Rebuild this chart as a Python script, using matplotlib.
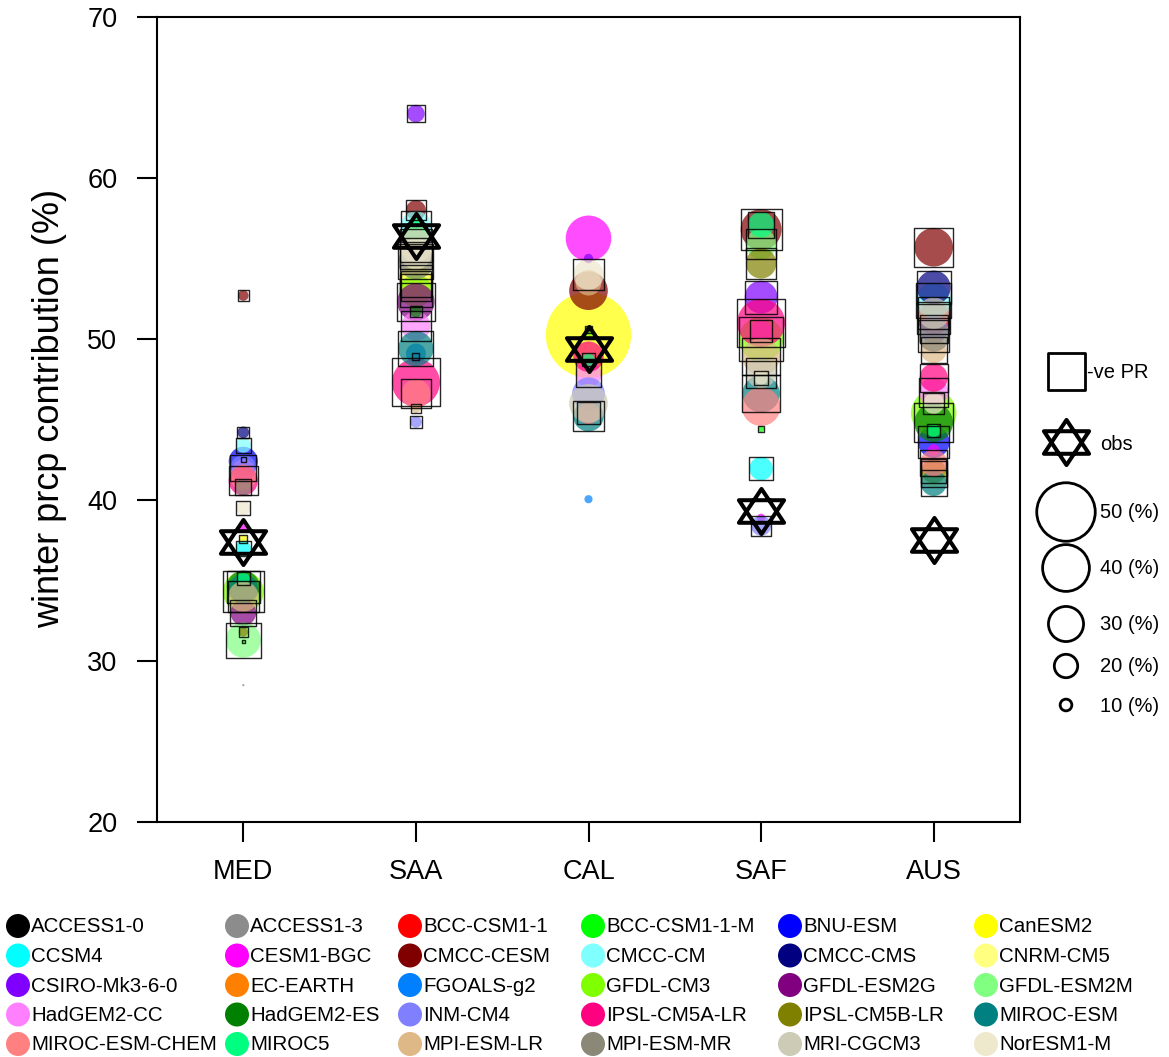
import numpy as np
import matplotlib
matplotlib.use("Agg")
import matplotlib.pyplot as plt
from matplotlib.path import Path

plt.rcParams["font.family"] = ["Liberation Sans", "DejaVu Sans"]

nan = np.nan

regions = ["MED", "SAA", "CAL", "SAF", "AUS"]

models = ["ACCESS1-0", "ACCESS1-3", "BCC-CSM1-1", "BCC-CSM1-1-M", "BNU-ESM", "CanESM2",
          "CCSM4", "CESM1-BGC", "CMCC-CESM", "CMCC-CM", "CMCC-CMS", "CNRM-CM5",
          "CSIRO-Mk3-6-0", "EC-EARTH", "FGOALS-g2", "GFDL-CM3", "GFDL-ESM2G", "GFDL-ESM2M",
          "HadGEM2-CC", "HadGEM2-ES", "INM-CM4", "IPSL-CM5A-LR", "IPSL-CM5B-LR", "MIROC-ESM",
          "MIROC-ESM-CHEM", "MIROC5", "MPI-ESM-LR", "MPI-ESM-MR", "MRI-CGCM3", "NorESM1-M"]

colors = ["#000000", "#8c8c8c", "#ff0000", "#00ff00", "#0000ff", "#ffff00",
          "#00ffff", "#ff00ff", "#800000", "#80ffff", "#000080", "#ffff80",
          "#8000ff", "#ff8000", "#0080ff", "#80ff00", "#800080", "#80ff80",
          "#ff80ff", "#008000", "#8080ff", "#ff0080", "#808000", "#008080",
          "#ff8080", "#00ff80", "#deb887", "#8b8878", "#cdcab5", "#eee8cd"]

# winter precipitation contribution (%) per model, one list per region
med_val = [nan, 28.5, nan, 31.2, 42.4, 37.6, 37.0, 38.3, 52.7, 43.4, 44.2, nan,
           nan, nan, 42.5, 34.3, 33.0, 31.3, 41.8, 34.6, 42.0, 41.2, 31.8, 34.5,
           41.4, 35.1, 34.0, 40.8, nan, 39.5]
saa_val = [nan, 48.9, nan, nan, nan, 53.6, nan, nan, 58.0, 57.0, nan, 53.3,
           64.0, nan, 49.1, 53.0, 52.3, 56.6, 50.8, 51.7, 44.85, 47.3, nan, 49.4,
           46.6, 57.2, 45.7, 54.8, 55.8, 55.3]
cal_val = [nan, nan, nan, nan, nan, 50.25, nan, 56.25, 53.0, nan, nan, nan,
           55.0, nan, 40.05, 50.3, nan, nan, 47.8, 50.6, 46.6, 48.9, nan, 45.2,
           45.4, 48.7, 53.5, nan, 46.0, 54.0]
saf_val = [nan, nan, nan, 44.4, nan, nan, 41.95, 38.9, 56.8, nan, nan, nan,
           52.6, nan, nan, 50.0, nan, 55.9, 50.5, nan, 38.4, 51.0, 54.7, 46.6,
           45.8, 57.1, 48.9, nan, 47.9, 47.6]
aus_val = [nan, nan, 51.3, nan, 43.6, nan, nan, 43.1, 55.7, 52.4, 53.2, 41.6,
           nan, nan, nan, 45.4, nan, nan, 46.7, 44.8, 50.6, 47.6, 41.8, 41.05,
           42.3, 44.3, 49.3, 50.2, 51.6, 46.0]

# circle size (%) per model, one list per region
med_size = [nan, 2, nan, 3, 25, 7, 13, 8, 9, 13, 10, nan,
            nan, nan, 4, 35, 22, 30, 20, 28, 22, 25, 8, 25,
            22, 11, 26, 14, nan, 12]
saa_size = [nan, 6, nan, nan, nan, 28, nan, nan, 17, 26, nan, 26,
            15, nan, 17, 28, 32, 20, 25, 10, 10, 41, nan, 30,
            25, 8, 8, 30, 28, 27]
cal_size = [nan, nan, nan, nan, nan, 73, nan, 39, 33, nan, nan, nan,
            8, nan, 7, 8, nan, nan, 22, 6, 28, 26, nan, 26,
            19, 11, 22, nan, 33, 26]
saf_size = [nan, nan, nan, 5, nan, nan, 20, 7, 35, nan, nan, nan,
            28, nan, nan, 38, nan, 26, 19, nan, 17, 41, 26, 32,
            33, 22, 32, nan, 26, 12]
aus_size = [nan, nan, 28, nan, 27, nan, nan, 10, 33, 30, 29, 22,
            nan, nan, nan, 39, nan, nan, 25, 33, 24, 24, 21, 22,
            23, 11, 22, 27, 27, 18]

# 1 where the model has a negative PR
med_neg = [0, 0, 0, 1, 0, 1, 1, 0, 1, 1, 1, 0,
           0, 0, 1, 1, 1, 1, 0, 1, 1, 1, 1, 0,
           0, 1, 1, 1, 0, 1]
saa_neg = [0, 1, 0, 0, 0, 1, 0, 0, 1, 1, 0, 1,
           1, 0, 0, 1, 1, 0, 1, 1, 1, 1, 0, 1,
           1, 0, 1, 1, 1, 1]
cal_neg = [0, 0, 0, 0, 0, 0, 0, 0, 0, 0, 0, 0,
           0, 0, 0, 0, 0, 0, 1, 1, 0, 0, 0, 1,
           1, 1, 0, 0, 0, 1]
saf_neg = [0, 0, 0, 1, 0, 0, 1, 0, 1, 0, 0, 0,
           1, 0, 0, 1, 0, 1, 1, 0, 1, 1, 1, 1,
           0, 1, 1, 0, 1, 1]
aus_neg = [0, 0, 1, 0, 1, 0, 0, 0, 1, 1, 1, 1,
           0, 0, 0, 0, 0, 0, 1, 1, 1, 1, 1, 1,
           1, 1, 1, 1, 1, 1]

obs = [37.4, 56.4, 49.4, 39.3, 37.5]

legend_pcts = [50, 40, 30, 20, 10]

values = [med_val, saa_val, cal_val, saf_val, aus_val]
sizes = [med_size, saa_size, cal_size, saf_size, aus_size]
negs = [med_neg, saa_neg, cal_neg, saf_neg, aus_neg]

W, H = 1169, 1057
DPI = 100
PX2PT = 72.0 / DPI


def diam_pt(pct):
    """Marker diameter in points for a contribution percentage."""
    return 1.17 * np.asarray(pct, dtype=float) * PX2PT


# hexagram marker for observations
hexagram = Path(
    [(0, 1), (-1, -0.5), (1, -0.5), (0, 1),
     (0, -1), (-1, 0.5), (1, 0.5), (0, -1)],
    [Path.MOVETO, Path.LINETO, Path.LINETO, Path.CLOSEPOLY,
     Path.MOVETO, Path.LINETO, Path.LINETO, Path.CLOSEPOLY])

fig = plt.figure(figsize=(W / DPI, H / DPI), dpi=DPI)
ax = fig.add_axes([157 / W, 1 - 822 / H, 863 / W, 805 / H])

for i, reg in enumerate(regions):
    y = np.asarray(values[i], dtype=float)
    sz = np.asarray(sizes[i], dtype=float)
    ng = np.asarray(negs[i], dtype=bool)
    ok = np.isfinite(y)
    xs = np.full(ok.sum(), i + 1.0)
    cols = [c for c, k in zip(colors, ok) if k]
    ax.scatter(xs, y[ok], s=diam_pt(sz[ok]) ** 2, c=cols, alpha=0.7,
               edgecolors="none", zorder=2)
    sq = ok & ng
    ax.scatter(np.full(sq.sum(), i + 1.0), y[sq], s=diam_pt(sz[sq]) ** 2,
               marker="s", facecolors="none", edgecolors="black",
               linewidths=1.0, alpha=0.85, zorder=3)

ax.plot(np.arange(1, len(regions) + 1), obs, linestyle="none", marker=hexagram,
        markersize=32.5, markerfacecolor="none", markeredgecolor="black",
        markeredgewidth=2.9, zorder=5)

ax.set_xlim(0.5, 5.5)
ax.set_ylim(20, 70)
ax.set_xticks(np.arange(1, len(regions) + 1))
ax.set_xticklabels(regions)
ax.set_yticks(np.arange(20, 71, 10))
ax.tick_params(direction="out", length=14.5, width=1.5, labelsize=19.5)
ax.tick_params(axis="x", pad=12)
ax.tick_params(axis="y", pad=14)
for sp in ax.spines.values():
    sp.set_linewidth(1.5)

ax.text((50 - 157) / 863, (822 - 408) / 805, "winter prcp contribution (%)",
        transform=ax.transAxes, rotation=90, ha="center", va="center",
        fontsize=26)

# legend panels drawn in figure pixel space
lax = fig.add_axes([0, 0, 1, 1])
lax.set_xlim(0, W)
lax.set_ylim(H, 0)
lax.axis("off")

# key for negative PR, observations and circle sizes
lax.scatter([1066.5], [371], s=(37 * PX2PT) ** 2, marker="s",
            facecolors="none", edgecolors="black", linewidths=2.0)
lax.text(1087, 373, "-ve PR", fontsize=14.5, ha="left", va="center")
lax.plot([1066], [442], marker=hexagram, markersize=32.5, markerfacecolor="none",
         markeredgecolor="black", markeredgewidth=2.9, linestyle="none")
lax.text(1100, 444, "obs", fontsize=14.5, ha="left", va="center")
size_rows = [512, 568, 624, 666, 705]
for pct, yy in zip(legend_pcts, size_rows):
    lax.scatter([1066], [yy], s=diam_pt(pct) ** 2, marker="o",
                facecolors="none", edgecolors="black", linewidths=2.0)
    lax.text(1100, yy + 1, f"{pct} (%)", fontsize=14.5, ha="left", va="center")

# model colour key
col_x = [18, 237, 410, 593, 790, 986]
for k, (name, c) in enumerate(zip(models, colors)):
    cx = col_x[k % 6]
    cy = 926 + 29.5 * (k // 6)
    lax.scatter([cx], [cy], s=(24 * PX2PT) ** 2, color=c, edgecolors="none")
    lax.text(cx + 13, cy + 1, name, fontsize=14.8, ha="left", va="center")

fig.savefig("out.png", dpi=DPI)
